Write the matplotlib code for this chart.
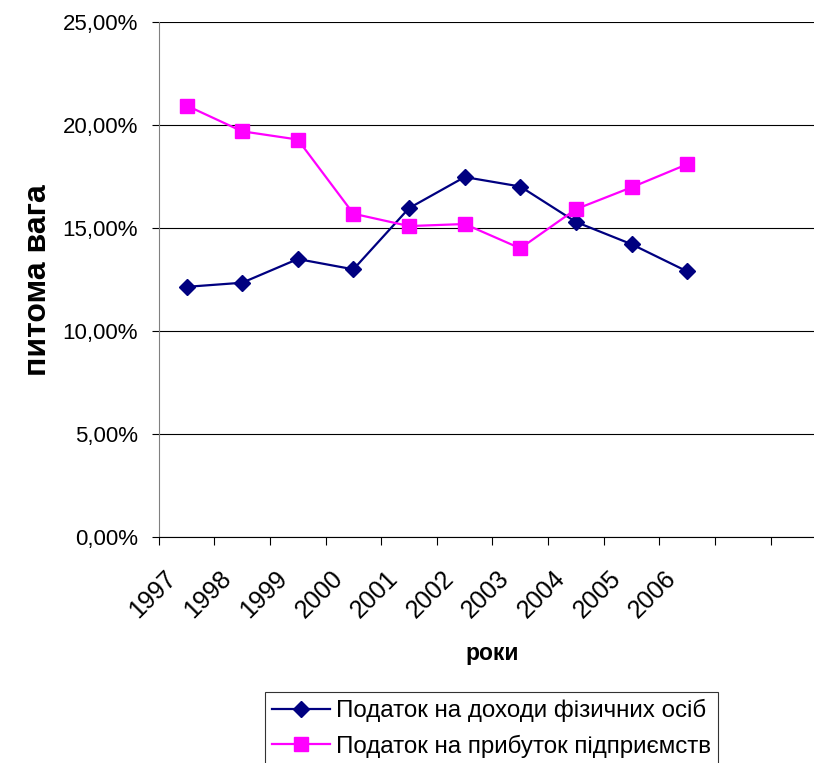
import matplotlib.pyplot as plt
import matplotlib.transforms as mtransforms
from matplotlib.ticker import FixedLocator

plt.rcParams['font.family'] = ['Liberation Sans', 'DejaVu Sans']

years = ['1997', '1998', '1999', '2000', '2001', '2002', '2003', '2004', '2005', '2006']
pdfo = [12.15, 12.35, 13.5, 13.0, 15.97, 17.48, 17.02, 15.3, 14.22, 12.9]
pp = [20.95, 19.7, 19.3, 15.7, 15.1, 15.2, 14.02, 15.92, 16.98, 18.1]
n_slots = 12

fig = plt.figure(figsize=(8.14, 7.63), dpi=100)
ax = fig.add_axes([0.195, 0.296, 0.82, 0.675])

x = [i + 0.5 for i in range(len(years))]
ax.plot(x, pdfo, color='#000080', marker='D', markersize=8, linewidth=1.6,
        label='Податок на доходи фізичних осіб')
ax.plot(x, pp, color='#FF00FF', marker='s', markersize=10, linewidth=1.6,
        label='Податок на прибуток підприємств')

ax.set_xlim(0, n_slots)
ax.set_ylim(0, 25)
ax.set_yticks([0, 5, 10, 15, 20, 25])
ax.yaxis.set_major_formatter(lambda v, p: f'{v:.2f}%'.replace('.', ','))
ax.grid(axis='y', color='black', linewidth=0.8)
ax.set_axisbelow(True)

# category ticks on slot borders, labels in slot centres
ax.xaxis.set_major_locator(FixedLocator(range(n_slots + 1)))
ax.xaxis.set_minor_locator(FixedLocator(x))
ax.set_xticklabels([])
ax.set_xticklabels(years, minor=True, rotation=45, ha='right', va='top',
                   rotation_mode='anchor', fontsize=18)
ax.tick_params(axis='x', which='major', direction='out', length=6, color='black')
ax.tick_params(axis='x', which='minor', length=0, pad=21)
off = mtransforms.ScaledTranslation(-23 / 100, 0, fig.dpi_scale_trans)
for lbl in ax.get_xticklabels(minor=True):
    lbl.set_transform(lbl.get_transform() + off)
ax.tick_params(axis='y', direction='out', length=5, labelsize=16, pad=10)

for s in ['top', 'right']:
    ax.spines[s].set_visible(False)
ax.spines['left'].set_color('#808080')
ax.spines['bottom'].set_color('black')

ax.set_ylabel('питома вага', fontsize=23, fontweight='bold', labelpad=7)
ax.set_xlabel('роки', fontsize=16.5, fontweight='bold', labelpad=14)

leg = ax.legend(loc='upper left', bbox_to_anchor=(265 / 814, 1 - 692 / 763),
                bbox_transform=fig.transFigure, fontsize=17.4, frameon=True,
                fancybox=False, edgecolor='black', handlelength=2.4,
                borderpad=0.3, labelspacing=0.5, handletextpad=0.22,
                borderaxespad=0)
leg.get_frame().set_linewidth(0.8)

fig.savefig('out.png', dpi=100)
